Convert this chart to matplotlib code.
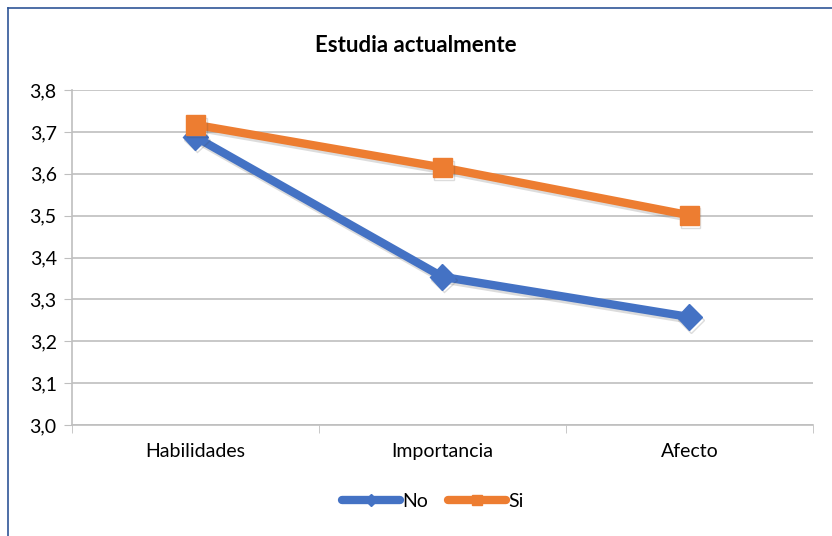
import matplotlib.pyplot as plt
import matplotlib.patheffects as pe
from matplotlib.lines import Line2D
from matplotlib.ticker import FuncFormatter

plt.rcParams["font.family"] = ["Lato", "DejaVu Sans"]

categories = ["Habilidades", "Importancia", "Afecto"]
no_values = [3.688, 3.354, 3.258]
si_values = [3.717, 3.615, 3.501]
y_ticks = [3.0, 3.1, 3.2, 3.3, 3.4, 3.5, 3.6, 3.7, 3.8]

blue = "#4472c4"
orange = "#ed7d31"
grid_gray = "#bfbfbf"

fig = plt.figure(figsize=(8.32, 5.36), dpi=100)
ax = fig.add_axes([0.0865, 0.207, 0.8905, 0.625])

x = list(range(len(categories)))
shadow = [pe.SimpleLineShadow(offset=(1, -2), shadow_color="#404040", alpha=0.18), pe.Normal()]

ax.plot(x, no_values, color=blue, linewidth=6, marker="D", markersize=13,
        solid_capstyle="round", zorder=3, path_effects=shadow)
ax.plot(x, si_values, color=orange, linewidth=6, marker="s", markersize=14,
        solid_capstyle="round", zorder=4, path_effects=shadow)

ax.set_xlim(-0.5, len(categories) - 0.5)
ax.set_ylim(3.0, 3.8)
ax.set_yticks(y_ticks)
ax.yaxis.set_major_formatter(FuncFormatter(lambda v, p: f"{v:.1f}".replace(".", ",")))
ax.set_xticks(x)
ax.set_xticklabels(categories)
ax.set_xticks([-0.5, 0.5, 1.5, 2.5], minor=True)

ax.grid(True, axis="y", color=grid_gray, linewidth=1.2)
ax.set_axisbelow(True)
for side in ["top", "right"]:
    ax.spines[side].set_visible(False)
ax.spines["left"].set_color(grid_gray)
ax.spines["bottom"].set_color(grid_gray)
ax.spines["left"].set_linewidth(1.2)
ax.spines["bottom"].set_linewidth(1.2)

ax.tick_params(axis="y", length=6, color=grid_gray, labelsize=14, pad=5)
ax.tick_params(axis="x", which="major", length=0, labelsize=14, pad=13)
ax.tick_params(axis="x", which="minor", length=6, color=grid_gray)

fig.text(0.5, 0.916, "Estudia actualmente", ha="center", va="center",
         fontsize=16, fontweight="bold")

handles = [
    Line2D([], [], color=blue, linewidth=6, marker="D", markersize=6, solid_capstyle="round"),
    Line2D([], [], color=orange, linewidth=6, marker="s", markersize=7, solid_capstyle="round"),
]
fig.legend(handles, ["No", "Si"], loc="center", bbox_to_anchor=(0.52, 0.065), ncol=2,
           frameon=False, fontsize=14, handlelength=3.0, handletextpad=0.1,
           columnspacing=1.0)

# chart frame (top and left edges)
fig.add_artist(Line2D([0.0096, 1.0], [0.985, 0.985], color="#2f5597", linewidth=1.2))
fig.add_artist(Line2D([0.0096, 0.0096], [0.0, 0.985], color="#2f5597", linewidth=1.2))

fig.savefig("out.png", dpi=100)
